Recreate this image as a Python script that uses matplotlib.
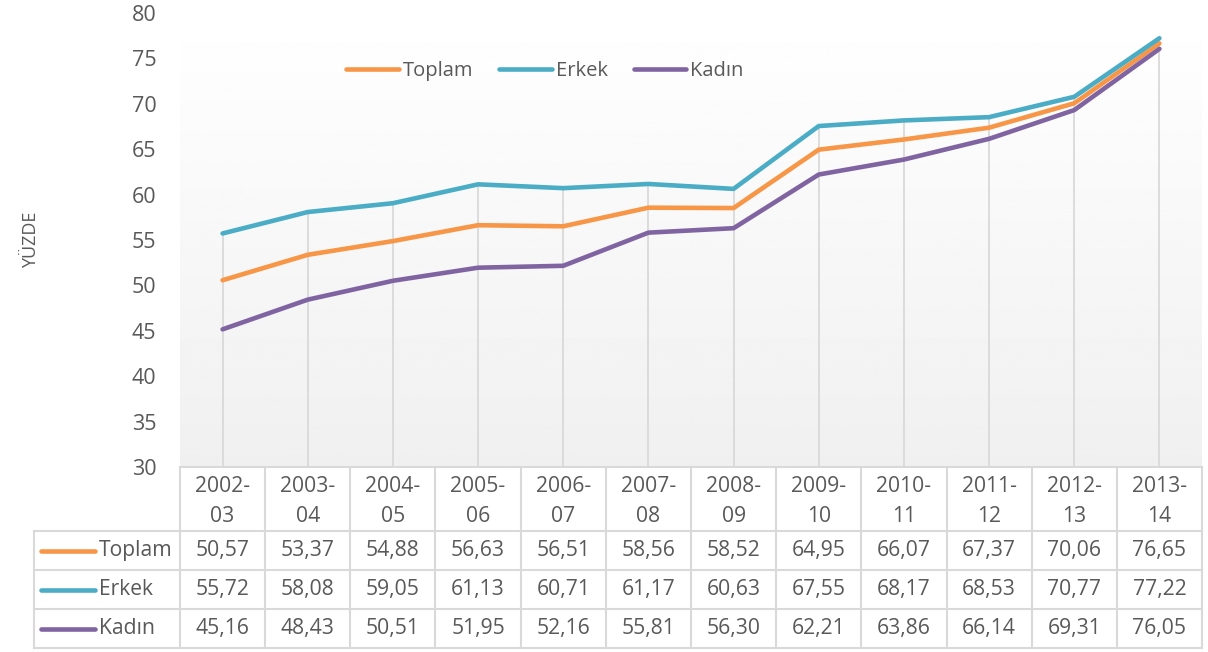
import numpy as np
import matplotlib.pyplot as plt
from matplotlib.lines import Line2D
from matplotlib.transforms import blended_transform_factory

plt.rcParams['font.family'] = ['Open Sans', 'DejaVu Sans']

years = ['2002-\n03', '2003-\n04', '2004-\n05', '2005-\n06', '2006-\n07', '2007-\n08',
         '2008-\n09', '2009-\n10', '2010-\n11', '2011-\n12', '2012-\n13', '2013-\n14']
toplam = [50.57, 53.37, 54.88, 56.63, 56.51, 58.56, 58.52, 64.95, 66.07, 67.37, 70.06, 76.65]
erkek = [55.72, 58.08, 59.05, 61.13, 60.71, 61.17, 60.63, 67.55, 68.17, 68.53, 70.77, 77.22]
kadin = [45.16, 48.43, 50.51, 51.95, 52.16, 55.81, 56.30, 62.21, 63.86, 66.14, 69.31, 76.05]
series = [('Toplam', toplam, '#F79646'), ('Erkek', erkek, '#4BACC6'), ('Kadın', kadin, '#8064A2')]

W, H = 1208, 652
txt = '#595959'
grid = '#d9d9d9'
fs = 15.2

fig = plt.figure(figsize=(W / 100, H / 100), dpi=100)
left, right, top, bottom = 180, 1202, 13, 467
ax = fig.add_axes([left / W, 1 - bottom / H, (right - left) / W, (bottom - top) / H])
n = len(years)
x = np.arange(n)
ax.set_xlim(-0.5, n - 0.5)
ax.set_ylim(30, 80)

# gradient background
grad = np.linspace(1.0, 0.94, 256).reshape(-1, 1)
ax.imshow(grad, extent=(-0.5, n - 0.5, 30, 80), aspect='auto', cmap='gray',
          vmin=0, vmax=1, zorder=0, origin='upper')

# drop lines from the highest series down to the axis
tops = np.max([toplam, erkek, kadin], axis=0)
ax.vlines(x, 30, tops, color=grid, lw=1.3, zorder=1)

for name, vals, col in series:
    ax.plot(x, vals, color=col, lw=3.3, solid_capstyle='round', solid_joinstyle='round',
            label=name, zorder=3)

for s in ax.spines.values():
    s.set_visible(False)
ax.set_xticks([])
ax.set_yticks(range(30, 81, 5))
ax.tick_params(axis='y', length=0, labelsize=15.5, labelcolor=txt, pad=17)
ax.set_ylabel('YÜZDE', fontsize=13, color=txt, labelpad=66)

leg = ax.legend(loc='upper left', bbox_to_anchor=(0.145, 0.935), ncol=3, frameon=False,
                fontsize=14.5, handlelength=2.6, handletextpad=0.2, columnspacing=1.3,
                labelcolor=txt)

# data table below the plot
tr = blended_transform_factory(ax.transData, fig.transFigure)
cw = (right - left) / n
xl = -0.5 - (left - 34) / cw

def fy(py):
    return 1 - py / H

rows_y = [467, 531, 570, 609, 648]
lk = dict(color=grid, lw=1.5, transform=tr, clip_on=False)
fig.add_artist(Line2D([-0.5, n - 0.5], [fy(467)] * 2, **lk))
for py in rows_y[1:]:
    fig.add_artist(Line2D([xl, n - 0.5], [fy(py)] * 2, **lk))
for k in range(n + 1):
    fig.add_artist(Line2D([k - 0.5] * 2, [fy(467), fy(648)], **lk))
fig.add_artist(Line2D([xl] * 2, [fy(531), fy(648)], **lk))

for i, lab in enumerate(years):
    a, b = lab.split('\n')
    fig.text(i, fy(487), a, transform=tr, ha='center', va='center', fontsize=fs, color=txt)
    fig.text(i, fy(516), b, transform=tr, ha='center', va='center', fontsize=fs, color=txt)

for r, (name, vals, col) in enumerate(series):
    yc = fy((rows_y[r + 1] + rows_y[r + 2]) / 2)
    fig.add_artist(Line2D([xl + 7 / cw, xl + 61 / cw], [yc, yc], color=col, lw=3.3,
                          solid_capstyle='round', transform=tr))
    fig.text(xl + 65 / cw, yc, name, transform=tr, ha='left', va='center', fontsize=fs, color=txt)
    for i, v in enumerate(vals):
        fig.text(i, yc, f'{v:.2f}'.replace('.', ','), transform=tr, ha='center', va='center',
                 fontsize=fs, color=txt)

fig.savefig('out.png', dpi=100)
